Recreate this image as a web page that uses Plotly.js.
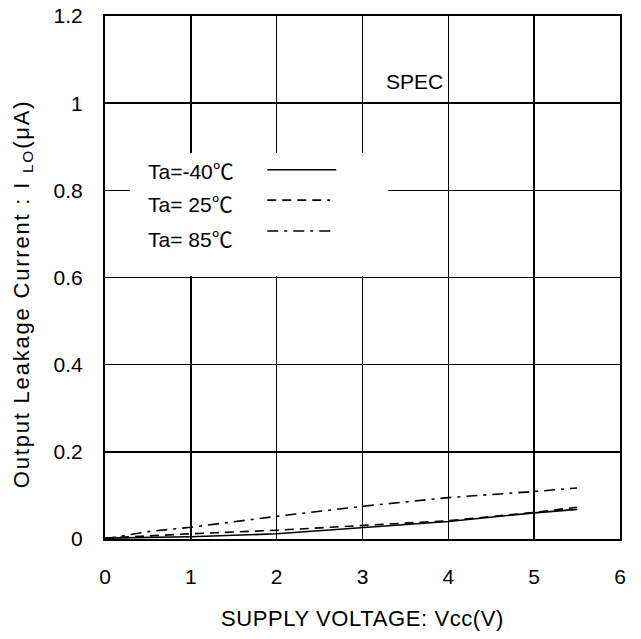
<!DOCTYPE html>
<html><head><meta charset="utf-8">
<script src="https://cdn.plot.ly/plotly-3.0.1.min.js"></script>
<style>body{margin:0;background:#fff}#c{width:641px;height:639px}
.xtitle{letter-spacing:0.6px}
g.annotation[data-index="0"] text.annotation-text{letter-spacing:1.8px}
</style>
</head><body><div id="c"></div>
<script>
const vcc = [0, 0.5, 1, 2, 3, 4, 5, 5.5];
const iM40 = [0.002, 0.003, 0.005, 0.012, 0.026, 0.040, 0.060, 0.068];
const i25 = [0.002, 0.007, 0.012, 0.020, 0.031, 0.042, 0.061, 0.073];
const i85 = [0.0, 0.017, 0.027, 0.052, 0.075, 0.095, 0.109, 0.117];
const specX = [1.8, 5.5];
const specY = [1, 1];
const legendLabels = ['Ta=-40\u2103', 'Ta= 25\u2103', 'Ta= 85\u2103'];
const dashes = ['solid', '9px,6px', '11px,6px,3px,6px'];

const F = 'Liberation Sans, Arial, Noto Sans CJK JP, sans-serif';
const FS = 21;
const traces = [
  {x: vcc, y: iM40, mode: 'lines', line: {color: '#000', width: 1.6, dash: dashes[0]}},
  {x: vcc, y: i25, mode: 'lines', line: {color: '#000', width: 1.6, dash: dashes[1]}},
  {x: vcc, y: i85, mode: 'lines', line: {color: '#000', width: 1.6, dash: dashes[2]}},
  {x: specX, y: specY, mode: 'lines', line: {color: '#000', width: 1.6, dash: '13px,7px'}}
];

const shapes = [{type: 'rect', xref: 'paper', yref: 'paper', x0: 0.0485, x1: 0.55, y0: 0.503, y1: 0.738,
  fillcolor: '#fff', line: {width: 0}, layer: 'above'}];
const annotations = [
  {x: 0, y: 0.4675, xref: 'paper', yref: 'paper', xshift: -82, textangle: -90,
   text: 'Output Leakage Current : I <sub>LO</sub>(\u03bcA)', showarrow: false,
   xanchor: 'center', yanchor: 'middle', font: {family: F, size: 22, color: '#000'}},
  {x: 3.6, y: 1.049, xref: 'x', yref: 'y', text: 'SPEC', showarrow: false,
   xanchor: 'center', yanchor: 'middle', font: {family: F, size: FS, color: '#000'}}];
const legTextY = [0.702, 0.639, 0.572];
const legLineY = [0.706, 0.648, 0.589];
const legLineX1 = [0.449, 0.437, 0.449];
legendLabels.forEach((t, i) => {
  annotations.push({x: 0.08, y: legTextY[i], xref: 'paper', yref: 'paper', text: t, showarrow: false,
    xanchor: 'left', yanchor: 'middle', font: {family: F, size: FS, color: '#000'}});
  shapes.push({type: 'line', xref: 'paper', yref: 'paper', x0: 0.315, x1: legLineX1[i],
    y0: legLineY[i], y1: legLineY[i], layer: 'above',
    line: {color: '#000', width: 1.6, dash: dashes[i]}});
});

const layout = {
  width: 641, height: 639,
  margin: {l: 105, r: 21, t: 16, b: 100},
  paper_bgcolor: '#fff', plot_bgcolor: '#fff',
  showlegend: false,
  font: {family: F, size: FS, color: '#000'},
  xaxis: {range: [0, 6], dtick: 1, showgrid: true, gridcolor: '#000', gridwidth: 1.5,
    zeroline: false, showline: true, linecolor: '#000', linewidth: 2, mirror: true,
    ticks: '', ticklabelstandoff: 18, tickfont: {family: F, size: FS},
    title: {text: 'SUPPLY VOLTAGE: Vcc(V)', font: {family: F, size: 22}, standoff: 23}},
  yaxis: {range: [0, 1.2], dtick: 0.2, showgrid: true, gridcolor: '#000', gridwidth: 1.5,
    zeroline: false, showline: true, linecolor: '#000', linewidth: 2, mirror: true,
    ticks: '', ticklabelstandoff: 16, tickfont: {family: F, size: FS},
    tickvals: [0, 0.2, 0.4, 0.6, 0.8, 1, 1.2], ticktext: ['0', '0.2', '0.4', '0.6', '0.8', '1', '1.2']},
  shapes: shapes,
  annotations: annotations
};
Plotly.newPlot('c', traces, layout, {displayModeBar: false, staticPlot: true});
</script></body></html>
